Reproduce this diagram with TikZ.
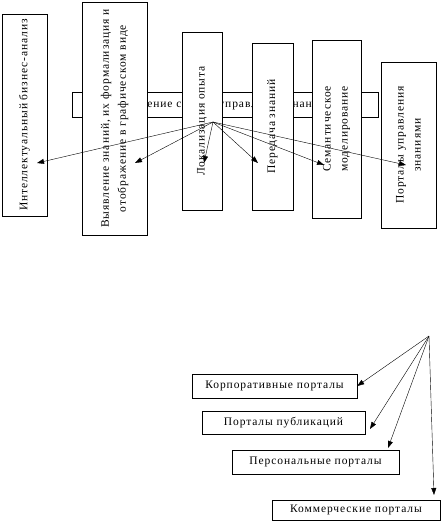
\documentclass[tikz,border=0pt]{standalone}
\usepackage{fontspec}
\setmainfont{Liberation Serif}[LetterSpace=8]
\usepackage{tikz}
\usetikzlibrary{positioning, arrows, arrows.meta, shapes}

\begin{document}
\begin{tikzpicture}[x=1pt, y=-1pt,
  every node/.style={font=\fontsize{11.5}{17}\selectfont},
  vbox/.style={draw, fill=white, rotate=90, align=center, inner sep=2pt},
  hbox/.style={draw, fill=white, inner sep=2pt},
  >={Triangle[length=7pt,width=5pt]}]
\useasboundingbox (0,0) rectangle (442,523);

% upper part
\node[hbox, minimum width=306, minimum height=25, text width=244, align=left] (sys) at (225,104.5) {Применение систем управления знаниями};
\node[vbox, minimum width=202, minimum height=45] (bi) at (24.5,115) {Интеллектуальный бизнес-анализ};
\node[vbox, minimum width=233, minimum height=65] (vz) at (114.5,118.5) {Выявление знаний, их формализация и\\отображение в графическом виде};
\node[vbox, minimum width=178, minimum height=40] (lo) at (202,121) {Локализация опыта};
\node[vbox, minimum width=167, minimum height=41] (pz) at (272.5,126.5) {Передача знаний};
\node[vbox, minimum width=178, minimum height=49] (sm) at (336.5,129) {Семантическое\\моделирование};
\node[vbox, minimum width=166, minimum height=55] (pu) at (408.5,145) {Порталы управления\\знаниями};

\coordinate (hub) at (213,122);
\coordinate (a1) at (37,163);
\coordinate (a2) at (135,163);
\coordinate (a3) at (204,163);
\coordinate (a4) at (258,163);
\coordinate (a5) at (324,165);
\coordinate (a6) at (406,165);

\draw (hub) edge[->] (a1)
      (hub) edge[->] (a2)
      (hub) edge[->] (a3)
      (hub) edge[->] (a4)
      (hub) edge[->] (a5)
      (hub) edge[->] (a6);

% lower part
\node[hbox, minimum width=165, minimum height=24] (korp) at (274.5,386) {Корпоративные порталы};
\node[hbox, minimum width=163, minimum height=23] (publ) at (283.5,422.5) {Порталы публикаций};
\node[hbox, minimum width=167, minimum height=24] (pers) at (315.5,462) {Персональные порталы};
\node[hbox, minimum width=168, minimum height=20] (komm) at (356,510) {Коммерческие порталы};

\coordinate (hubp) at (429,336);
\coordinate (b2) at (370,429);
\coordinate (b3) at (388,448);
\coordinate (b4) at (434,495);

\draw (hubp) edge[->] (korp.east)
      (hubp) edge[->] (b2)
      (hubp) edge[->] (b3)
      (hubp) edge[->] (b4);
\end{tikzpicture}
\end{document}
